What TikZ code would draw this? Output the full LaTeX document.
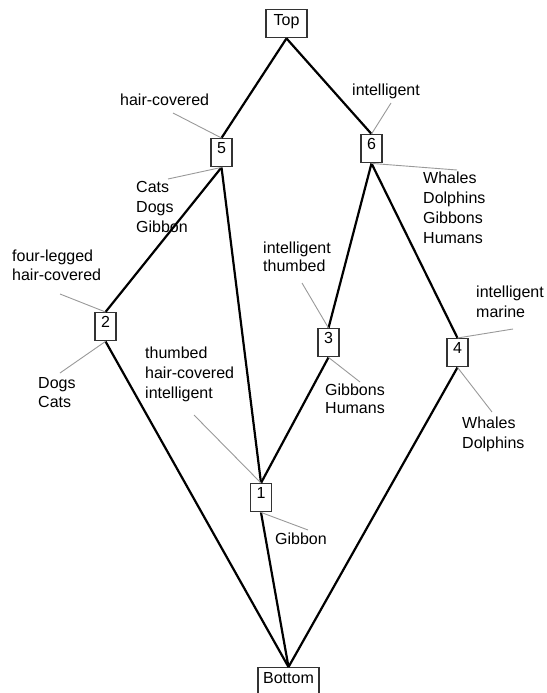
\documentclass[tikz,border=0pt]{standalone}
\usepackage{fontspec}
\setmainfont{Liberation Sans}
\begin{document}
\begin{tikzpicture}[x=1pt,y=-1pt,
  concept/.style={draw=black!80, line width=1.4pt, fill=white, inner sep=0pt,
    minimum width=21pt, text height=15pt, text depth=13pt, anchor=north,
    font=\fontsize{16}{20}\selectfont},
  note/.style={anchor=north west, inner sep=0pt, align=left,
    font=\fontsize{16}{20}\selectfont},
  tightnote/.style={note, font=\fontsize{16}{17.5}\selectfont},
  edge/.style={line width=2.2pt, black},
  leader/.style={line width=0.9pt, black!40}]
\useasboundingbox (0,0) rectangle (546,693);
\clip (0,0) rectangle (546,693);

% lattice elements
\node[concept, minimum width=41pt, text height=16pt, text depth=12pt] (top) at (286.5,9) {Top};
\node[concept] (n5) at (221.5,138) {5};
\node[concept] (n6) at (371.5,134) {6};
\node[concept] (n2) at (105.5,312) {2};
\node[concept] (n3) at (328.5,328) {3};
\node[concept] (n4) at (457.5,338) {4};
\node[concept] (n1) at (261,483) {1};
\node[concept, minimum width=61pt, text height=15.5pt, text depth=13pt] (bottom) at (288.5,667) {Bottom};

% order relation
\draw[edge] (top.south) -- (n5.north);
\draw[edge] (top.south) -- (n6.north);
\draw[edge] (n5.south) -- (n2.north);
\draw[edge] (n5.south) -- (n1.north);
\draw[edge] (n6.south) -- (n3.north);
\draw[edge] (n6.south) -- (n4.north);
\draw[edge] (n3.south) -- (n1.north);
\draw[edge] (n2.south) -- (bottom.north);
\draw[edge] (n1.south) -- (bottom.north);
\draw[edge] (n4.south) -- (bottom.north);

% attribute (upper) and object (lower) labels
\node[note] (a5) at (120,94) {hair-covered};
\node[note] (o5) at (136,181) {Cats\\Dogs\\Gibbon};
\node[note] (a6) at (352,84) {intelligent};
\node[note] (o6) at (423,172) {Whales\\Dolphins\\Gibbons\\Humans};
\node[note, font=\fontsize{16}{19}\selectfont] (a2) at (12,250) {four-legged\\hair-covered};
\node[note, font=\fontsize{16}{19}\selectfont] (o2) at (38,377) {Dogs\\Cats};
\node[tightnote] (a3) at (263,242) {intelligent\\thumbed};
\node[tightnote] (o3) at (325,384) {Gibbons\\Humans};
\node[note] (a4) at (476,286) {intelligent\\marine};
\node[note] (o4) at (462,417) {Whales\\Dolphins};
\node[note] (a1) at (145,347) {thumbed\\hair-covered\\intelligent};
\node[note] (o1) at (275,533) {Gibbon};

% leader lines from labels to their elements
\coordinate (p5a) at (173,113);
\coordinate (p5o) at (168,179);
\coordinate (p6a) at (391,103);
\coordinate (p6o) at (457,170);
\coordinate (p2a) at (60,294);
\coordinate (p2o) at (60,373);
\coordinate (p3a) at (302,283);
\coordinate (p3o) at (360,382);
\coordinate (p4a) at (513,329);
\coordinate (p4o) at (492,412);
\coordinate (p1a) at (194,415);
\coordinate (p1o) at (308,530);
\draw[leader] (p5a) -- (n5.north);
\draw[leader] (p5o) -- (n5.south);
\draw[leader] (p6a) -- (n6.north);
\draw[leader] (p6o) -- (n6.south);
\draw[leader] (p2a) -- (n2.north);
\draw[leader] (p2o) -- (n2.south);
\draw[leader] (p3a) -- (n3.north);
\draw[leader] (p3o) -- (n3.south);
\draw[leader] (p4a) -- (n4.north);
\draw[leader] (p4o) -- (n4.south);
\draw[leader] (p1a) -- (n1.north);
\draw[leader] (p1o) -- (n1.south);
\end{tikzpicture}
\end{document}
